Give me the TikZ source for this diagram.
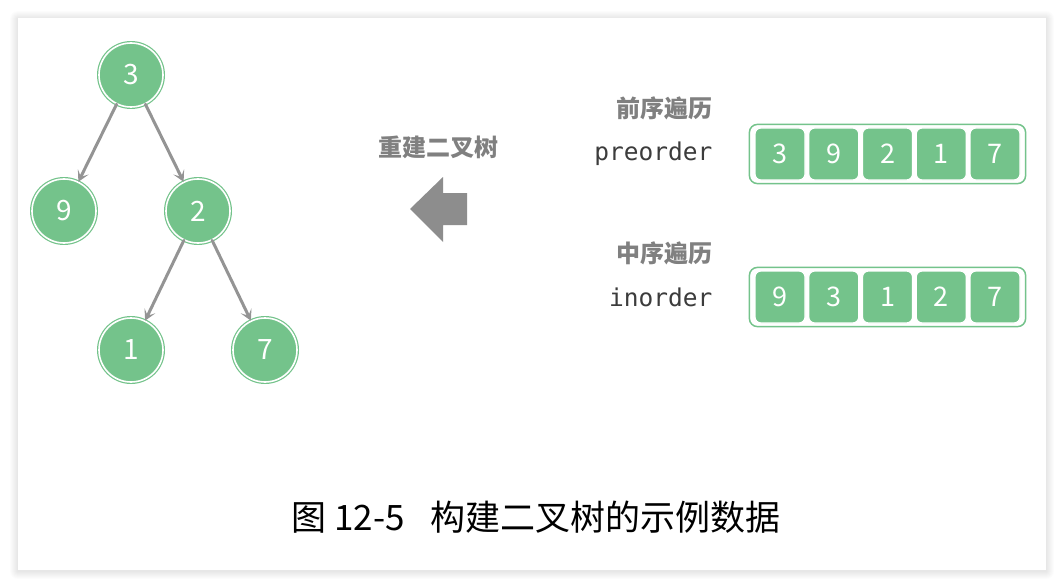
\documentclass[tikz,border=0pt]{standalone}
\usepackage{fontspec}
\setmainfont{Noto Sans CJK SC}
\newfontfamily\monofont{DejaVu Sans Mono}
\usetikzlibrary{fit,arrows.meta}
\definecolor{tgreen}{RGB}{116,195,139}
\definecolor{linkgray}{RGB}{148,148,148}
\definecolor{labelgray}{RGB}{128,128,128}
\definecolor{codegray}{RGB}{60,60,60}
\begin{document}
\begin{tikzpicture}[x=1pt, y=-1pt, line cap=round, line join=round, >={Stealth[length=11pt, width=12pt, inset=5.5pt]},
	tnode/.style={circle, fill=tgreen, draw=tgreen, double=white, double distance=1.6pt, line width=1.2pt, minimum size=64pt, inner sep=0pt, text=white, font=\fontsize{28}{28}\selectfont},
	cell/.style={rounded corners=6pt, fill=tgreen, draw=white, line width=1.2pt, minimum width=50pt, minimum height=52pt, inner sep=0pt, text=white, font=\fontsize{27}{27}\selectfont},
	arr/.style={draw=tgreen, line width=1.5pt, rounded corners=8pt, inner xsep=5pt, inner ysep=3pt},
	link/.style={->, draw=linkgray, line width=3pt},
	title/.style={anchor=east, text=labelgray, font=\fontsize{24}{24}\selectfont\bfseries},
	code/.style={anchor=east, text=codegray, font=\fontsize{24.5}{24.5}\selectfont\monofont}]
	\useasboundingbox (0,0) rectangle (1064,588);
	% panel with soft shadow
	\foreach \i in {1,...,8}
		\fill[black, opacity=0.012, rounded corners=\i pt] (18-\i,18-\i+1) rectangle (1046+\i,570+\i+1);
	\fill[white] (18,18) rectangle (1046,570);
	% tree
	\node[tnode] (n3) at (131,75) {3};
	\node[tnode] (n9) at (64,211) {9};
	\node[tnode] (n2) at (198,211) {2};
	\node[tnode] (n1) at (131,350) {1};
	\node[tnode] (n7) at (265,350) {7};
	\draw[link] (n3)--(n9);
	\draw[link] (n3)--(n2);
	\draw[link] (n2)--(n1);
	\draw[link] (n2)--(n7);
	% rebuild arrow
	\node[font=\fontsize{24}{24}\selectfont\bfseries, text=labelgray] (rebuild) at (438,147) {重建二叉树};
	\fill[labelgray!90!white] (410,209)--(443,177)--(443,193)--(467,193)--(467,225)--(443,225)--(443,242)--cycle;
	% arrays
	\node[title] (pretitle) at (716,108) {前序遍历};
	\node[code] (precode) at (716,154) {preorder};
	\node[title] (intitle) at (716,253) {中序遍历};
	\node[code] (incode) at (716,297) {inorder};
	\foreach \v [count=\k] in {3,9,2,1,7}
		\node[cell] (pre\k) at (780+53.75*\k-53.75,154) {\v};
	\foreach \v [count=\k] in {9,3,1,2,7}
		\node[cell] (in\k) at (780+53.75*\k-53.75,297) {\v};
	\node[arr, fit=(pre1)(pre5)] (prebox) {};
	\node[arr, fit=(in1)(in5)] (inbox) {};
	% caption
	\node[font=\fontsize{35}{35}\selectfont] (caption) at (536,517) {图 12-5\hspace{26pt}构建二叉树的示例数据};
\end{tikzpicture}
\end{document}
